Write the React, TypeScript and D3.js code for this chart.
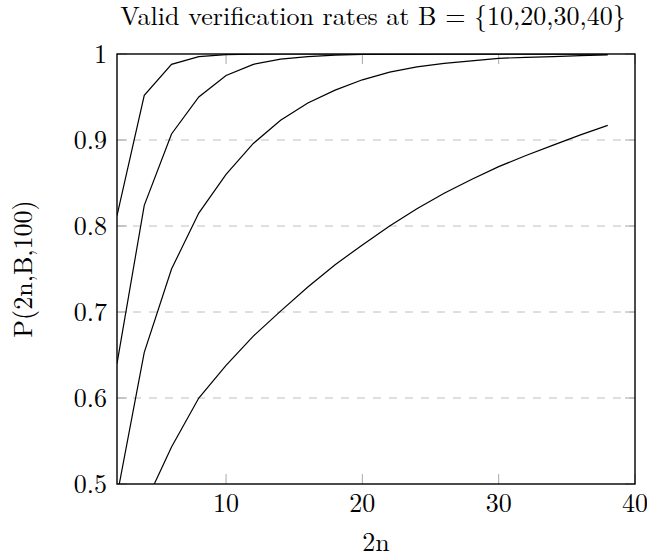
import React, { useEffect, useRef } from 'react';
import * as d3 from 'd3';

// sample points on the x axis (2n)
const twoN = [2, 4, 6, 8, 10, 12, 14, 16, 18, 20, 22, 24, 26, 28, 30, 32, 34, 36, 38];

// P(2n,B,100), one array per B
const rateB40 = [0.812, 0.952, 0.988, 0.997, 0.9993, 0.9999, 1, 1, 1, 1, 1, 1, 1, 1, 1, 1, 1, 1, 1];
const rateB30 = [0.64, 0.824, 0.907, 0.95, 0.975, 0.988, 0.994, 0.997, 0.9987, 0.9994, 0.9997, 0.9999, 1, 1, 1, 1, 1, 1, 1];
const rateB20 = [0.486, 0.653, 0.75, 0.815, 0.86, 0.896, 0.923, 0.943, 0.958, 0.97, 0.979, 0.985, 0.989, 0.992, 0.995, 0.996, 0.997, 0.998, 0.999];
const rateB10 = [0.39, 0.475, 0.543, 0.6, 0.638, 0.672, 0.701, 0.729, 0.755, 0.778, 0.8, 0.82, 0.838, 0.854, 0.869, 0.882, 0.894, 0.906, 0.917];

const xTicks = [10, 20, 30, 40];
const yTicks = [0.5, 0.6, 0.7, 0.8, 0.9, 1];
const yTickLabels = ['0.5', '0.6', '0.7', '0.8', '0.9', '1'];

const title = 'Valid verification rates at B = {10,20,30,40}';
const xLabel = '2n';
const yLabel = 'P(2n,B,100)';

const App = () => {
  const ref = useRef(null);

  useEffect(() => {
    const root = d3.select(ref.current);
    root.selectAll('*').remove();

    const W = 647;
    const H = 559;
    const margin = { top: 54, right: 12, bottom: 75, left: 117 };
    const width = W - margin.left - margin.right;
    const height = H - margin.top - margin.bottom;
    const font = "'Latin Modern Roman', 'Liberation Serif', serif";
    const fontSize = '26px';

    const svg = root
      .append('svg')
      .attr('width', W)
      .attr('height', H)
      .style('position', 'absolute')
      .style('left', 0)
      .style('top', 0)
      .style('background', '#fff');

    const x = d3.scaleLinear().domain([2, 40]).range([0, width]);
    const y = d3.scaleLinear().domain([0.5, 1]).range([height, 0]);

    svg
      .append('defs')
      .append('clipPath')
      .attr('id', 'plot-clip')
      .append('rect')
      .attr('width', width)
      .attr('height', height);

    const g = svg.append('g').attr('transform', `translate(${margin.left},${margin.top})`);

    // dashed horizontal grid
    g.append('g')
      .selectAll('line')
      .data(yTicks.filter((d) => d > 0.5 && d < 1))
      .enter()
      .append('line')
      .attr('x1', 0)
      .attr('x2', width)
      .attr('y1', (d) => y(d))
      .attr('y2', (d) => y(d))
      .attr('stroke', '#c0c0c0')
      .attr('stroke-width', 1)
      .attr('stroke-dasharray', '8,8');

    // inward ticks, gray
    const tickLen = 10;
    const tickColor = '#a8a8a8';
    xTicks.forEach((t) => {
      g.append('line')
        .attr('x1', x(t)).attr('x2', x(t))
        .attr('y1', height).attr('y2', height - tickLen)
        .attr('stroke', tickColor);
      g.append('line')
        .attr('x1', x(t)).attr('x2', x(t))
        .attr('y1', 0).attr('y2', tickLen)
        .attr('stroke', tickColor);
    });
    yTicks.forEach((t) => {
      g.append('line')
        .attr('x1', 0).attr('x2', tickLen)
        .attr('y1', y(t)).attr('y2', y(t))
        .attr('stroke', tickColor);
      g.append('line')
        .attr('x1', width).attr('x2', width - tickLen)
        .attr('y1', y(t)).attr('y2', y(t))
        .attr('stroke', tickColor);
    });

    // curves
    const line = d3
      .line()
      .x((d) => x(d[0]))
      .y((d) => y(d[1]));

    const curves = g.append('g').attr('clip-path', 'url(#plot-clip)');
    [rateB10, rateB20, rateB30, rateB40].forEach((series) => {
      curves
        .append('path')
        .datum(twoN.map((n, i) => [n, series[i]]))
        .attr('fill', 'none')
        .attr('stroke', '#000')
        .attr('stroke-width', 1.2)
        .attr('d', line);
    });

    // frame
    g.append('rect')
      .attr('width', width)
      .attr('height', height)
      .attr('fill', 'none')
      .attr('stroke', '#000')
      .attr('stroke-width', 1.4);

    // tick labels
    g.append('g')
      .selectAll('text')
      .data(xTicks)
      .enter()
      .append('text')
      .attr('x', (d) => x(d))
      .attr('y', height + 28)
      .attr('text-anchor', 'middle')
      .style('font-family', font)
      .style('font-size', fontSize)
      .text((d) => d);

    g.append('g')
      .selectAll('text')
      .data(yTicks)
      .enter()
      .append('text')
      .attr('x', -10)
      .attr('y', (d) => y(d) + 9)
      .attr('text-anchor', 'end')
      .style('font-family', font)
      .style('font-size', fontSize)
      .text((d, i) => yTickLabels[i]);

    // title and axis labels
    svg
      .append('text')
      .attr('x', 373)
      .attr('y', 25)
      .attr('text-anchor', 'middle')
      .style('font-family', font)
      .style('font-size', fontSize)
      .text(title);

    svg
      .append('text')
      .attr('x', margin.left + width / 2)
      .attr('y', 551)
      .attr('text-anchor', 'middle')
      .style('font-family', font)
      .style('font-size', fontSize)
      .text(xLabel);

    svg
      .append('text')
      .attr('transform', `translate(32,${margin.top + height / 2}) rotate(-90)`)
      .attr('text-anchor', 'middle')
      .style('font-family', font)
      .style('font-size', fontSize)
      .text(yLabel);
  }, []);

  return <div ref={ref}></div>;
};

export default App;
